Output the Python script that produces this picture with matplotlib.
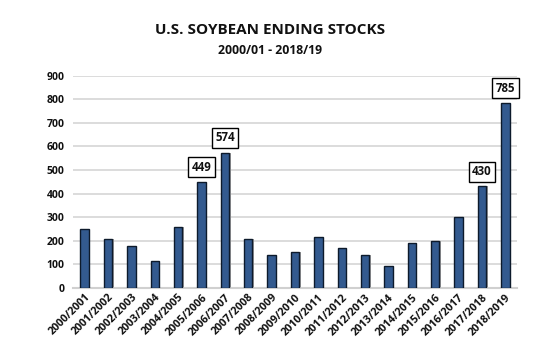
import matplotlib
matplotlib.use("Agg")
import matplotlib.pyplot as plt

categories = ["2000/2001", "2001/2002", "2002/2003", "2003/2004", "2004/2005",
              "2005/2006", "2006/2007", "2007/2008", "2008/2009", "2009/2010",
              "2010/2011", "2011/2012", "2012/2013", "2013/2014", "2014/2015",
              "2015/2016", "2016/2017", "2017/2018", "2018/2019"]
values = [248, 208, 178, 112, 256, 449, 574, 205, 138, 151,
          215, 169, 141, 92, 191, 197, 302, 430, 785]
labeled = ["2005/2006", "2006/2007", "2017/2018", "2018/2019"]
yticks = [0, 100, 200, 300, 400, 500, 600, 700, 800, 900]

plt.rcParams['font.family'] = ['Open Sans', 'DejaVu Sans']

fig = plt.figure(figsize=(5.51, 3.56), dpi=100)
ax = fig.add_axes([73/551, 1 - 287.7/356, 444/551, 211.9/356])

x = list(range(len(categories)))
# shadow
ax.bar([i + 0.06 for i in x], values, width=0.36, color="#9a9a9a", zorder=2)
ax.bar(x, values, width=0.36, color="#335a8f", edgecolor="#0d1a2b", linewidth=1.0, zorder=3)

ax.set_xlim(-0.5, len(categories) - 0.5)
ax.set_ylim(0, 900)
ax.set_yticks(yticks)
ax.set_yticklabels([str(t) for t in yticks], fontsize=7.5, fontweight='bold', color='#111111')
ax.set_xticks(x)
ax.set_xticklabels(categories, rotation=45, ha='right', rotation_mode='anchor',
                   fontsize=7.8, fontweight='bold', color='#111111')
ax.tick_params(axis='both', length=0, pad=6)
ax.tick_params(axis='x', pad=3)
ax.grid(axis='y', color='#d9d9d9', linewidth=1.3, zorder=0)
ax.set_axisbelow(True)
for s in ['top', 'right', 'left']:
    ax.spines[s].set_visible(False)
ax.spines['bottom'].set_color('#d0d0d0')
ax.spines['bottom'].set_linewidth(1.5)

for i, (c, v) in enumerate(zip(categories, values)):
    if c in labeled:
        ax.annotate(str(v), xy=(i, v), xytext=(0, 6), textcoords='offset points',
                    ha='center', va='bottom', fontsize=8.3, fontweight='bold',
                    color='#111111', zorder=5, annotation_clip=False,
                    bbox=dict(boxstyle='square,pad=0.3', fc='white', ec='black', lw=1.0))

fig.text(0.49, 1 - 30/356, "U.S. SOYBEAN ENDING STOCKS", ha='center', va='center',
         fontsize=11, fontweight='bold', color='#111111')
fig.text(0.49, 1 - 51/356, "2000/01 - 2018/19", ha='center', va='center',
         fontsize=8.8, fontweight='bold', color='#111111')

fig.savefig("out.png", dpi=100, facecolor='white')
